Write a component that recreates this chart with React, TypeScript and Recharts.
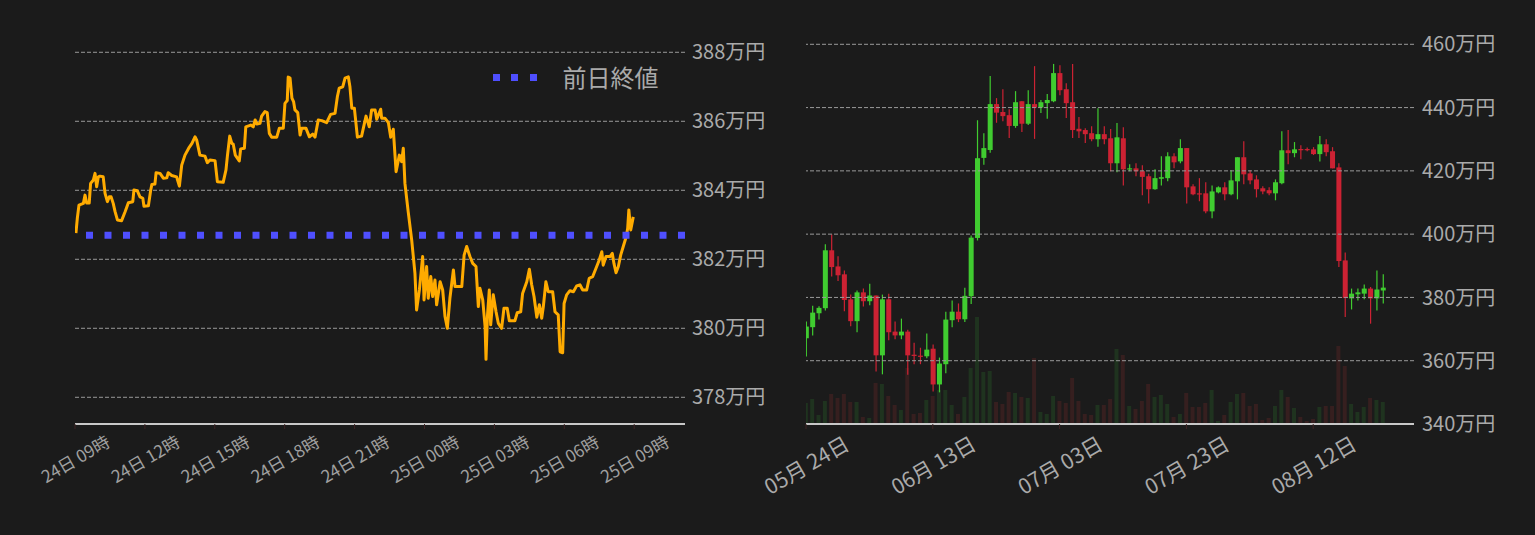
import React from 'react';
import { LineChart, Line, XAxis, YAxis, ReferenceLine, ComposedChart, Bar } from 'recharts';

const BG = '#1b1b1b';
const FONT = '"Noto Sans CJK JP", "Noto Sans", sans-serif';
const LINE_COLOR = '#ffab00';
const PREV_COLOR = '#4f4fff';
const UP = '#40cc30';
const DOWN = '#cc2233';
const UP_VOL = '#1f331f';
const DOWN_VOL = '#361f1f';
const GRID = '#9a9a9a';
const LABEL = '#aaaaaa';

// ---------- intraday (hours since 24日 09時, price in 万円) ----------
const intradayPoints: [number, number][] = [
  [0.04, 382.76], [0.10, 383.19], [0.17, 383.57], [0.36, 383.62], [0.43, 383.86], [0.50, 383.63], [0.61, 383.63], [0.67, 384.20], [0.79, 384.30], [0.86, 384.49],
  [0.93, 384.10], [1.00, 384.39], [1.07, 384.41], [1.21, 384.39], [1.29, 383.91], [1.39, 383.67], [1.47, 383.81], [1.55, 383.81], [1.64, 383.62], [1.72, 383.38],
  [1.82, 383.14], [2.00, 383.12], [2.15, 383.38], [2.29, 383.64], [2.48, 383.67], [2.53, 384.01], [2.67, 383.99], [2.79, 383.81], [2.91, 383.77], [2.96, 383.54],
  [3.15, 383.55], [3.25, 384.01], [3.30, 384.17], [3.43, 384.18], [3.48, 384.51], [3.65, 384.49], [3.79, 384.35], [3.94, 384.36], [4.00, 384.51], [4.15, 384.43],
  [4.36, 384.39], [4.48, 384.12], [4.58, 384.73], [4.72, 385.02], [4.88, 385.22], [5.02, 385.36], [5.15, 385.55], [5.22, 385.46], [5.36, 385.02], [5.58, 384.99],
  [5.68, 384.80], [5.79, 384.88], [6.01, 384.86], [6.11, 384.25], [6.36, 384.23], [6.48, 384.59], [6.54, 384.99], [6.64, 385.57], [6.73, 385.36], [6.79, 385.34],
  [6.88, 385.02], [7.05, 384.85], [7.11, 385.20], [7.27, 385.22], [7.33, 385.84], [7.54, 385.89], [7.65, 385.84], [7.73, 386.04], [7.80, 385.92], [7.94, 385.94],
  [8.01, 386.15], [8.15, 386.28], [8.25, 386.25], [8.34, 385.65], [8.44, 385.54], [8.66, 385.54], [8.77, 385.80], [8.94, 385.80], [9.01, 386.52], [9.11, 386.60],
  [9.15, 387.28], [9.23, 387.25], [9.31, 386.67], [9.38, 386.57], [9.44, 386.33], [9.56, 386.25], [9.66, 385.60], [9.73, 385.80], [9.91, 385.80], [10.06, 385.55],
  [10.20, 385.63], [10.30, 385.54], [10.44, 386.04], [10.59, 386.02], [10.80, 385.96], [10.97, 386.20], [11.16, 386.23], [11.26, 386.71], [11.34, 386.96], [11.49, 387.00],
  [11.59, 387.25], [11.73, 387.29], [11.80, 387.00], [11.88, 386.38], [11.99, 386.38], [12.12, 385.54], [12.30, 385.57], [12.49, 386.15], [12.63, 385.84], [12.73, 386.33],
  [12.88, 386.33], [12.95, 386.06], [13.12, 386.35], [13.16, 386.09], [13.30, 386.09], [13.45, 385.96], [13.55, 385.54], [13.66, 385.77], [13.78, 384.54], [13.92, 385.02],
  [14.02, 384.83], [14.09, 385.22], [14.16, 384.20], [14.30, 383.38], [14.45, 382.56], [14.59, 381.59], [14.66, 380.53], [14.78, 381.11], [14.92, 382.08], [14.98, 380.82],
  [15.09, 381.79], [15.16, 380.87], [15.27, 381.50], [15.35, 380.92], [15.45, 381.40], [15.52, 380.68], [15.67, 381.35], [15.78, 381.11], [15.88, 380.34], [15.98, 380.00],
  [16.09, 380.87], [16.24, 381.69], [16.31, 381.21], [16.60, 381.21], [16.70, 382.12], [16.81, 382.37], [16.95, 382.08], [17.07, 381.88], [17.21, 381.79], [17.31, 380.63],
  [17.38, 381.16], [17.50, 380.82], [17.60, 380.05], [17.64, 379.10], [17.70, 380.34], [17.78, 381.11], [17.84, 380.10], [17.95, 380.97], [18.07, 380.48], [18.17, 380.14],
  [18.31, 380.00], [18.41, 380.58], [18.55, 380.58], [18.64, 380.22], [18.88, 380.22], [18.98, 380.45], [19.13, 380.48], [19.21, 381.01], [19.39, 381.35], [19.50, 381.71],
  [19.60, 381.26], [19.70, 380.92], [19.82, 380.32], [19.93, 380.68], [20.03, 380.29], [20.10, 380.63], [20.21, 381.35], [20.31, 381.06], [20.50, 381.06], [20.60, 380.48],
  [20.74, 380.39], [20.82, 379.32], [20.93, 379.29], [20.99, 380.72], [21.10, 380.97], [21.24, 381.09], [21.39, 381.06], [21.53, 381.23], [21.67, 381.26], [21.79, 381.11],
  [21.96, 381.11], [22.07, 381.45], [22.22, 381.50], [22.39, 381.79], [22.50, 381.98], [22.61, 382.22], [22.67, 381.83], [22.79, 382.08], [22.96, 382.08], [23.06, 382.17],
  [23.13, 381.88], [23.22, 381.61], [23.32, 381.79], [23.42, 382.12], [23.53, 382.37], [23.66, 382.66], [23.72, 382.90], [23.77, 383.43], [23.85, 382.85], [23.96, 383.23],
];
const prevClose = 382.7;
const intradayTicks = [0, 3, 6, 9, 12, 15, 18, 21, 24];
const intradayTickLabels = ['24日 09時', '24日 12時', '24日 15時', '24日 18時', '24日 21時', '25日 00時', '25日 03時', '25日 06時', '25日 09時'];
const intradayPriceTicks = [378, 380, 382, 384, 386, 388];

// ---------- daily (day 0 = 05月24日, price in 万円) ----------
const opens = [
  367.1, 370.6, 375.0, 376.6, 394.9, 389.8, 387.3, 379.4, 372.5, 381.6, 378.8, 380.6, 361.7, 379.4, 369.2, 368.0, 369.2, 361.9, 361.6, 361.4,
  363.8, 352.5, 358.9, 372.8, 375.5, 373.1, 380.4, 398.8, 424.1, 426.6, 441.1, 438.6, 437.6, 434.2, 442.0, 434.9, 441.1, 440.0, 441.4, 442.0,
  450.9, 445.8, 441.7, 433.3, 432.9, 431.9, 430.0, 431.6, 430.3, 422.4, 430.3, 420.5, 420.8, 419.9, 418.3, 414.2, 417.5, 417.7, 424.6, 423.0,
  427.2, 415.1, 412.9, 412.9, 407.2, 413.2, 414.8, 412.6, 416.7, 424.3, 419.2, 417.3, 414.5, 413.9, 412.9, 416.1, 426.5, 425.6, 426.9, 426.9,
  426.8, 425.3, 428.4, 426.2, 421.1, 391.7, 379.7, 381.0, 381.2, 382.8, 379.7, 382.2,
];
const highs = [
  372.4, 377.4, 377.2, 396.8, 399.9, 393.0, 388.5, 380.9, 382.2, 382.8, 384.3, 380.6, 380.9, 381.2, 372.4, 373.3, 369.8, 365.7, 364.1, 368.6,
  365.1, 361.0, 375.5, 379.0, 378.1, 383.1, 399.6, 436.0, 431.9, 450.0, 443.0, 445.8, 439.5, 445.2, 442.0, 445.5, 453.1, 442.4, 444.3, 453.8,
  453.4, 447.7, 453.8, 437.0, 433.5, 434.1, 439.8, 434.1, 433.2, 435.1, 433.8, 422.1, 422.4, 421.8, 419.1, 420.5, 424.6, 425.9, 425.6, 430.0,
  427.2, 415.8, 417.7, 416.4, 415.4, 415.1, 416.4, 420.2, 424.3, 429.4, 420.2, 418.6, 415.1, 414.8, 417.3, 432.5, 432.9, 429.1, 428.1, 427.4,
  427.5, 431.0, 430.0, 427.5, 422.4, 394.2, 382.8, 382.8, 384.1, 383.3, 388.5, 387.3,
];
const lows = [
  361.3, 368.0, 373.0, 375.9, 386.6, 385.2, 375.6, 370.9, 369.0, 377.1, 377.5, 356.6, 355.7, 366.5, 366.8, 366.8, 355.6, 358.9, 358.9, 360.8,
  350.3, 350.0, 356.0, 370.6, 372.2, 372.2, 377.9, 398.0, 421.9, 425.7, 435.2, 435.7, 430.4, 433.6, 432.3, 434.5, 430.1, 438.3, 436.5, 441.7,
  443.9, 436.7, 430.4, 430.4, 428.8, 429.4, 427.6, 428.4, 419.9, 419.6, 415.4, 419.9, 418.3, 412.3, 409.7, 414.0, 415.4, 416.7, 420.8, 422.4,
  409.7, 412.3, 410.4, 406.6, 405.0, 412.9, 410.7, 412.3, 411.0, 415.8, 415.8, 411.6, 412.6, 412.3, 410.7, 415.8, 422.1, 424.3, 423.7, 426.2,
  425.0, 423.0, 424.6, 420.8, 389.6, 373.8, 376.2, 379.0, 379.4, 371.7, 375.9, 378.1,
];
const closes = [
  370.8, 375.2, 376.7, 394.9, 389.6, 387.0, 379.2, 372.5, 381.6, 378.8, 380.6, 361.7, 379.4, 369.0, 368.0, 369.2, 361.7, 361.5, 361.5, 363.5,
  352.5, 359.1, 373.0, 375.5, 373.1, 380.5, 398.9, 424.0, 427.2, 441.1, 438.4, 437.3, 434.2, 441.7, 434.9, 441.1, 440.0, 441.7, 442.4, 450.9,
  445.5, 441.4, 432.9, 432.5, 431.6, 430.0, 431.6, 430.0, 422.4, 430.6, 420.5, 420.8, 419.9, 418.1, 414.2, 417.7, 418.0, 424.6, 422.7, 427.2,
  414.8, 412.6, 412.7, 407.2, 413.5, 414.8, 412.6, 417.0, 424.3, 418.9, 417.0, 414.2, 413.5, 412.9, 416.4, 426.5, 425.6, 426.8, 426.7, 426.6,
  425.3, 428.4, 425.9, 420.8, 391.5, 379.8, 381.2, 381.6, 382.8, 379.7, 382.5, 383.1,
];
const volumes = [
  21, 25, 9, 23, 30, 26, 30, 22, 22, 7, 6, 41, 40, 28, 19, 14, 56, 10, 11, 24,
  28, 34, 34, 19, 10, 27, 56, 107, 52, 53, 22, 20, 32, 31, 27, 26, 66, 12, 10, 28,
  23, 21, 46, 23, 10, 9, 19, 19, 25, 75, 69, 18, 15, 23, 40, 27, 29, 20, 7, 10,
  31, 17, 17, 21, 34, 3, 9, 22, 30, 31, 18, 20, 4, 6, 18, 34, 27, 16, 7, 3,
  5, 17, 18, 18, 78, 58, 20, 12, 17, 26, 24, 22,
];
const dailyTicks = [0, 20, 40, 60, 80];
const dailyTickLabels = ['05月 24日', '06月 13日', '07月 03日', '07月 23日', '08月 12日'];
const dailyPriceTicks = [340, 360, 380, 400, 420, 440, 460];

const intradayData = intradayPoints.map(([t, p]) => ({ t, p }));
const dailyData = opens.map((o, i) => ({
  day: i,
  open: o,
  high: highs[i],
  low: lows[i],
  close: closes[i],
  volume: volumes[i],
}));

function LeftTick(props: any) {
  const { x, y, payload } = props;
  const idx = intradayTicks.indexOf(payload.value);
  const cy = y + 29;
  return (
    <text x={x} y={cy} textAnchor="middle" dominantBaseline="central" transform={`rotate(-30, ${x}, ${cy})`} fill="#a0a0a0" fontSize={17} fontFamily={FONT}>
      {intradayTickLabels[idx]}
    </text>
  );
}

function RightTick(props: any) {
  const { x, y, payload } = props;
  const idx = dailyTicks.indexOf(payload.value);
  const cy = y + 35;
  return (
    <text x={x} y={cy} textAnchor="middle" dominantBaseline="central" transform={`rotate(-30, ${x}, ${cy})`} fill={LABEL} fontSize={21} fontFamily={FONT}>
      {dailyTickLabels[idx]}
    </text>
  );
}

function Candle(props: any) {
  const { x, y, width, height, payload } = props;
  if (x == null || y == null || !payload) return null;
  const top = Math.min(y, y + height);
  const h = Math.abs(height);
  const { open, close, high, low } = payload;
  const span = high - low;
  const py = (v: number) => (span > 0 ? top + ((high - v) / span) * h : top);
  const up = close >= open;
  const color = up ? UP : DOWN;
  const cx = x + width / 2;
  const bTop = py(Math.max(open, close));
  const bBot = py(Math.min(open, close));
  return (
    <g>
      <line x1={cx} x2={cx} y1={top} y2={top + h} stroke={color} strokeWidth={1.2} />
      <rect x={x} y={bTop} width={width} height={Math.max(bBot - bTop, 1.2)} fill={color} />
    </g>
  );
}

function VolBar(props: any) {
  const { x, y, width, height, payload } = props;
  if (x == null || y == null || !payload) return null;
  const up = payload.close >= payload.open;
  return <rect x={x} y={Math.min(y, y + height)} width={width} height={Math.abs(height)} fill={up ? UP_VOL : DOWN_VOL} />;
}

const yTick = { fill: LABEL, fontSize: 20, fontFamily: FONT };

export default function App() {
  return (
    <div style={{ position: 'absolute', left: 0, top: 0, width: 1535, height: 535, background: BG, overflow: 'hidden', fontFamily: FONT }}>
      <div style={{ position: 'absolute', left: 0, top: 0 }}>
        <LineChart width={780} height={535} data={intradayData} margin={{ top: 35, right: 0, left: 75, bottom: 0 }}>
          <XAxis
            dataKey="t"
            type="number"
            domain={[0, 26.18]}
            ticks={intradayTicks}
            interval={0}
            height={111}
            axisLine={{ stroke: '#c8c8c8', strokeWidth: 2 }}
            tickLine={{ stroke: '#3e2424' }}
            tickSize={5}
            tickMargin={0}
            tick={<LeftTick />}
            allowDataOverflow
          />
          <YAxis
            orientation="right"
            type="number"
            domain={[377.226, 388.501]}
            ticks={intradayPriceTicks}
            interval={0}
            width={95}
            axisLine={false}
            tickLine={false}
            tickSize={0}
            tickMargin={7}
            tick={yTick}
            tickFormatter={(v: number) => `${v}万円`}
            allowDataOverflow
          />
          {intradayPriceTicks.map((v) => (
            <ReferenceLine key={v} y={v} stroke={GRID} strokeDasharray="4 2" strokeWidth={1} />
          ))}
          <Line type="linear" dataKey="p" stroke={LINE_COLOR} strokeWidth={3} dot={false} isAnimationActive={false} strokeLinejoin="round" />
          <ReferenceLine y={prevClose} stroke={PREV_COLOR} strokeWidth={7} strokeDasharray="7 11.5" />
        </LineChart>
      </div>
      <div style={{ position: 'absolute', left: 492.5, top: 62, height: 30, display: 'flex', alignItems: 'center' }}>
        <div style={{ width: 7, height: 7, background: PREV_COLOR }} />
        <div style={{ width: 7, height: 7, background: PREV_COLOR, marginLeft: 11.5 }} />
        <div style={{ width: 7, height: 7, background: PREV_COLOR, marginLeft: 11.5 }} />
        <span style={{ marginLeft: 26, color: LABEL, fontSize: 24, lineHeight: '30px', fontFamily: FONT }}>前日終値</span>
      </div>
      <div style={{ position: 'absolute', left: 720, top: 0 }}>
        <ComposedChart width={815} height={535} data={dailyData} margin={{ top: 35, right: 0, left: 86, bottom: 0 }}>
          <XAxis
            xAxisId="price"
            dataKey="day"
            type="number"
            domain={[0, 95.9]}
            ticks={dailyTicks}
            interval={0}
            height={111}
            axisLine={{ stroke: '#c8c8c8', strokeWidth: 2 }}
            tickLine={{ stroke: '#3e2424' }}
            tickSize={5}
            tickMargin={0}
            tick={<RightTick />}
            allowDataOverflow
          />
          <XAxis xAxisId="vol" dataKey="day" type="number" domain={[0, 95.9]} hide allowDataOverflow />
          <YAxis
            yAxisId="price"
            orientation="right"
            type="number"
            domain={[340, 462.94]}
            ticks={dailyPriceTicks}
            interval={0}
            width={121}
            axisLine={false}
            tickLine={false}
            tickSize={0}
            tickMargin={8}
            tick={yTick}
            tickFormatter={(v: number) => `${v}万円`}
            allowDataOverflow
          />
          <YAxis yAxisId="vol" orientation="right" type="number" domain={[0, 389]} hide allowDataOverflow />
          {dailyPriceTicks.slice(1).map((v) => (
            <ReferenceLine key={v} xAxisId="price" yAxisId="price" y={v} stroke={GRID} strokeDasharray="4 2" strokeWidth={1} />
          ))}
          <Bar xAxisId="vol" yAxisId="vol" dataKey="volume" barSize={4} shape={(p: any) => <VolBar {...p} />} isAnimationActive={false} />
          <Bar
            xAxisId="price"
            yAxisId="price"
            dataKey={(d: any) => [d.low, d.high]}
            barSize={5}
            shape={(p: any) => <Candle {...p} />}
            isAnimationActive={false}
          />
        </ComposedChart>
      </div>
    </div>
  );
}
